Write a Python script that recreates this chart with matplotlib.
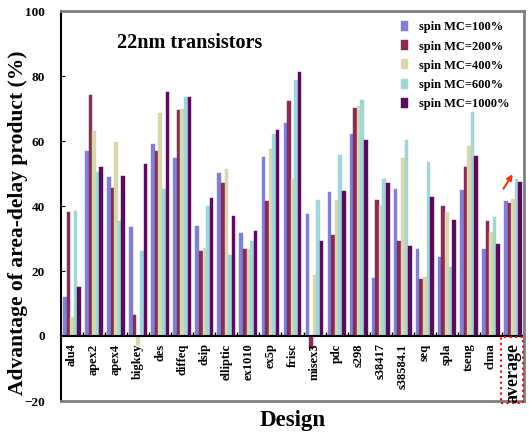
import matplotlib
matplotlib.use("Agg")
import matplotlib.pyplot as plt
import numpy as np
from matplotlib.patches import Rectangle

designs = ["alu4", "apex2", "apex4", "bigkey", "des", "diffeq", "dsip", "elliptic",
           "ex1010", "ex5p", "frisc", "misex3", "pdc", "s298", "s38417", "s38584.1",
           "seq", "spla", "tseng", "clma", "average"]

mc100 = [12.0, 57.0, 48.9, 33.5, 59.1, 54.8, 33.8, 50.2, 31.7, 55.1, 65.5,
         37.5, 44.3, 62.1, 17.8, 45.2, 26.8, 24.3, 44.9, 26.8, 41.5]
mc200 = [38.2, 74.3, 45.6, 6.4, 57.0, 69.5, 26.2, 47.1, 26.8, 41.5, 72.3,
         -4.0, 31.1, 70.2, 41.8, 29.2, 17.5, 40.0, 52.0, 35.4, 40.9]
mc400 = [5.8, 63.2, 59.8, -2.8, 68.6, 69.8, 27.1, 51.4, 26.8, 57.5, 48.3,
         18.8, 41.8, 70.8, 40.3, 54.8, 18.1, 38.2, 58.5, 32.0, 42.2]
mc600 = [38.5, 50.6, 35.4, 26.2, 45.2, 73.5, 40.0, 24.9, 29.2, 62.1, 78.8,
         41.8, 55.7, 72.6, 48.3, 60.3, 53.5, 21.2, 68.9, 36.6, 48.3]
mc1000 = [15.0, 52.0, 49.2, 52.9, 75.1, 73.5, 42.5, 36.9, 32.3, 63.4, 81.2,
          29.2, 44.6, 60.3, 47.1, 27.7, 42.8, 35.7, 55.4, 28.3, 47.4]

series = [mc100, mc200, mc400, mc600, mc1000]
labels = ["spin MC=100%", "spin MC=200%", "spin MC=400%", "spin MC=600%", "spin MC=1000%"]
colors = ["#8080d6", "#8c2a56", "#d8d8a8", "#9cd8d8", "#5c0a5c"]

plt.rcParams['font.family'] = ['Liberation Serif', 'DejaVu Serif']
plt.rcParams['font.weight'] = 'bold'

fig = plt.figure(figsize=(5.29, 4.33), dpi=100)
ax = fig.add_axes([61 / 529, 32 / 433, 463 / 529, 390 / 433])

x = np.arange(len(designs))
w = 0.162
for k, (vals, lab, col) in enumerate(zip(series, labels, colors)):
    ax.bar(x + (k - 2) * w, vals, width=w, color=col, label=lab,
           edgecolor=col, linewidth=0.3)

ax.set_xlim(-0.5, len(designs) - 0.5)
ax.set_ylim(-20, 100)
ax.axhline(0, color='black', lw=1.5)
ax.vlines(np.arange(len(designs)) + 0.5, 0, 1.2, color='black', lw=1)

ax.set_xticks([])
ax.set_yticks(np.arange(-20, 101, 20))
ax.tick_params(axis='y', direction='in', length=3, labelsize=9.5, pad=11.5)
for t in ax.get_yticklabels():
    t.set_fontweight('bold')

for s in ['top', 'right', 'bottom']:
    ax.spines[s].set_color('#7f7f7f')
    ax.spines[s].set_linewidth(2)
ax.spines['left'].set_color('black')
ax.spines['left'].set_linewidth(1.5)

for i, name in enumerate(designs):
    fs = 13 if name == "average" else 9
    ax.text(i, -2.3, name, rotation=90, ha='center', va='top',
            fontsize=fs, fontweight='bold')

ax.set_ylabel("Advantage of area-delay product (%)", fontsize=15.5, fontweight='bold')
ax.yaxis.set_label_coords(-0.072, 0.456)
ax.set_xlabel("Design", fontsize=16.5, fontweight='bold')
ax.xaxis.set_label_coords(0.5, -0.022)

ax.text(0.121, 0.918, "22nm transistors", transform=ax.transAxes,
        fontsize=14.5, fontweight='bold', va='center', ha='left')

ax.legend(loc='upper right', frameon=False, fontsize=9, handlelength=0.55,
          handleheight=0.85, handletextpad=0.9, labelspacing=0.55,
          bbox_to_anchor=(0.99, 1.0), borderaxespad=0.4)

ax.annotate("", xy=(20.05, 50.5), xytext=(19.5, 44.6),
            arrowprops=dict(arrowstyle='-|>', color='#ff3300', lw=1.5,
                            mutation_scale=8))

fig.patches.append(Rectangle((501 / 529, 30 / 433), 22 / 529, 66 / 433,
                             transform=fig.transFigure, fill=False,
                             edgecolor='red', linestyle=':', lw=1.5))

fig.savefig("out.png", dpi=100)
